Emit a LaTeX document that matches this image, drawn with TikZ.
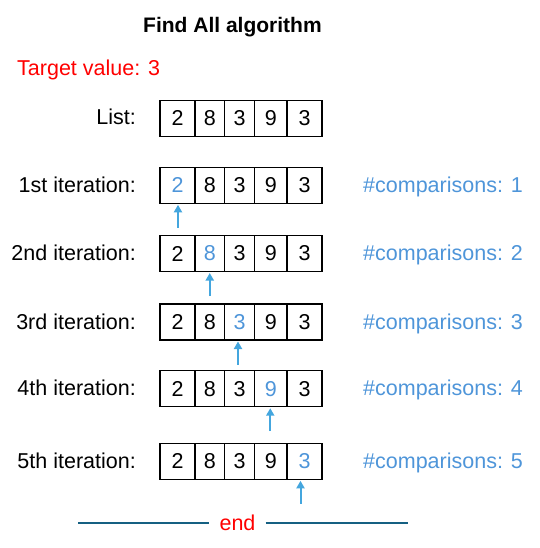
\documentclass[tikz,border=0pt]{standalone}
\usepackage{fontspec}
\setmainfont{Liberation Sans}
\usepackage{xcolor}
\usepackage{tikz}
\usetikzlibrary{positioning}
\usetikzlibrary{calc}
\usetikzlibrary{arrows.meta}

\definecolor{hitblue}{HTML}{4E95D9}
\definecolor{ptrblue}{HTML}{44A6DE}
\definecolor{rulecol}{HTML}{156082}

\begin{document}
\begin{tikzpicture}[x=1pt, y=-1pt, font=\fontsize{21.5}{26}\selectfont, cell/.style={draw, line width=1.2pt, minimum width=#1, minimum height=36pt, inner sep=0pt, outer sep=0pt}, hit/.style={text=hitblue}, lbl/.style={anchor=base east, inner sep=0pt}, cmp/.style={anchor=base west, inner sep=0pt, text=hitblue}, ptr/.style={-{Triangle[width=8pt,length=7.5pt]}, ptrblue, line width=2pt, shorten >=1.5pt}, rule/.style={rulecol, line width=1.8pt}]
		\useasboundingbox (0,0) rectangle (539,548);
		\node[anchor=base west, inner sep=0pt, font=\fontsize{21}{26}\selectfont\bfseries] (title) at (143,33) {Find All algorithm};
		\node[anchor=base west, inner sep=0pt, text=red] (target) at (17,76) {Target value: 3};
		% the list
		\node[lbl] (tL) at (136,125) {List:};
		\node[cell=35pt, anchor=west] (L1) at (160,118.3) {2};
		\node[cell=29.5pt] (L2) [right=0pt of L1] {8};
		\node[cell=30pt] (L3) [right=0pt of L2] {3};
		\node[cell=32.5pt] (L4) [right=0pt of L3] {9};
		\node[cell=35pt] (L5) [right=0pt of L4] {3};
		% 1st iteration
		\node[lbl] (tA) at (136,192.3) {1st iteration:};
		\node[cell=35pt, anchor=west, hit] (A1) at (160,185.3) {2};
		\node[cell=29.5pt] (A2) [right=0pt of A1] {8};
		\node[cell=30pt] (A3) [right=0pt of A2] {3};
		\node[cell=32.5pt] (A4) [right=0pt of A3] {9};
		\node[cell=35pt] (A5) [right=0pt of A4] {3};
		\node[cmp] (nA) at (363,192.3) {\#comparisons: 1};
		% 2nd iteration
		\node[lbl] (tB) at (136,260.5) {2nd iteration:};
		\node[cell=35pt, anchor=west] (B1) at (160,253.5) {2};
		\node[cell=29.5pt, hit] (B2) [right=0pt of B1] {8};
		\node[cell=30pt] (B3) [right=0pt of B2] {3};
		\node[cell=32.5pt] (B4) [right=0pt of B3] {9};
		\node[cell=35pt] (B5) [right=0pt of B4] {3};
		\node[cmp] (nB) at (363,260.5) {\#comparisons: 2};
		% 3rd iteration
		\node[lbl] (tC) at (136,329) {3rd iteration:};
		\node[cell=35pt, anchor=west] (C1) at (160,322) {2};
		\node[cell=29.5pt] (C2) [right=0pt of C1] {8};
		\node[cell=30pt, hit] (C3) [right=0pt of C2] {3};
		\node[cell=32.5pt] (C4) [right=0pt of C3] {9};
		\node[cell=35pt] (C5) [right=0pt of C4] {3};
		\node[cmp] (nC) at (363,329) {\#comparisons: 3};
		% 4th iteration
		\node[lbl] (tD) at (136,395.7) {4th iteration:};
		\node[cell=35pt, anchor=west] (D1) at (160,388.7) {2};
		\node[cell=29.5pt] (D2) [right=0pt of D1] {8};
		\node[cell=30pt] (D3) [right=0pt of D2] {3};
		\node[cell=32.5pt, hit] (D4) [right=0pt of D3] {9};
		\node[cell=35pt] (D5) [right=0pt of D4] {3};
		\node[cmp] (nD) at (363,395.7) {\#comparisons: 4};
		% 5th iteration
		\node[lbl] (tE) at (136,468.3) {5th iteration:};
		\node[cell=35pt, anchor=west] (E1) at (160,461.3) {2};
		\node[cell=29.5pt] (E2) [right=0pt of E1] {8};
		\node[cell=30pt] (E3) [right=0pt of E2] {3};
		\node[cell=32.5pt] (E4) [right=0pt of E3] {9};
		\node[cell=35pt, hit] (E5) [right=0pt of E4] {3};
		\node[cmp] (nE) at (363,468.3) {\#comparisons: 5};
		% pointers
		\coordinate (pA) at ($(A1.south)+(0.5,24.5)$);
		\coordinate (pB) at ($(B2.south)+(0,24.5)$);
		\coordinate (pC) at ($(C3.south)+(-1.5,24.5)$);
		\coordinate (pD) at ($(D4.south)+(-0.5,24.5)$);
		\coordinate (pE) at ($(E5.south)+(-4,24.5)$);
		\draw[ptr] (pA) -- (pA |- A1.south);
		\draw[ptr] (pB) -- (pB |- B2.south);
		\draw[ptr] (pC) -- (pC |- C3.south);
		\draw[ptr] (pD) -- (pD |- D4.south);
		\draw[ptr] (pE) -- (pE |- E5.south);
		% end
		\node[text=red, inner xsep=10pt, inner ysep=0pt] (fin) at (237.5,522.7) {end};
		\coordinate (el) at (78,522.7);
		\coordinate (er) at (408,522.7);
		\draw[rule] (el) -- (fin);
		\draw[rule] (fin) -- (er);
\end{tikzpicture}
\end{document}
